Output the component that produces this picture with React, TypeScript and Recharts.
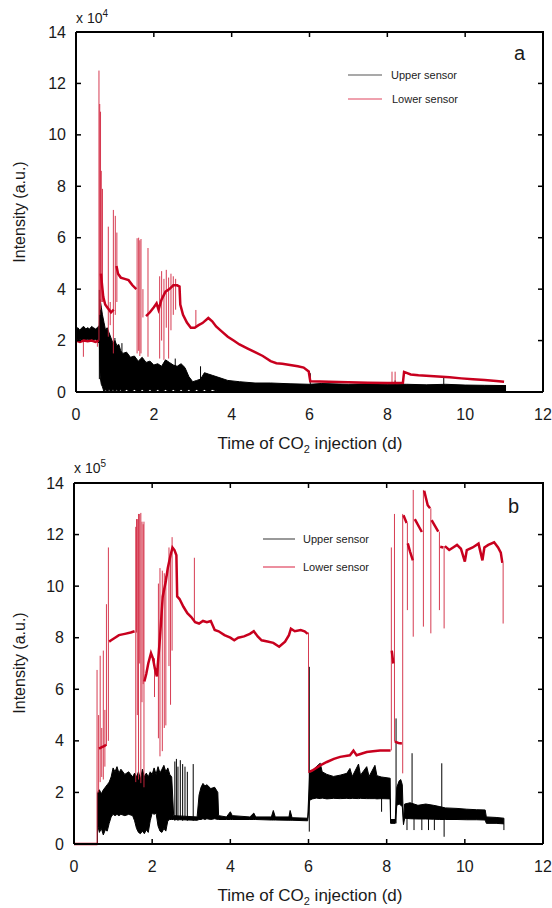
import React from 'react';
import { ComposedChart, Line, Area, XAxis, YAxis } from 'recharts';

// ---------- tick labels ----------
const X_TICKS = [0, 2, 4, 6, 8, 10, 12];
const Y_TICKS = [0, 2, 4, 6, 8, 10, 12, 14];
const X_MAX = 12;
const Y_MAX = 14;

// ---------- Panel a (intensity x 10^4) ----------
// Upper sensor noisy band: [time d, low, high]
const A_UPPER_BAND: number[][] = [
  [0.0, 2.05, 2.45], [0.05, 2.0, 2.5], [0.1, 2.05, 2.4], [0.15, 1.95, 2.5], [0.2, 2.05, 2.55],
  [0.25, 2.0, 2.45], [0.3, 2.05, 2.5], [0.35, 1.98, 2.45], [0.4, 2.05, 2.55], [0.45, 2.0, 2.5],
  [0.5, 2.05, 2.45], [0.55, 1.95, 2.5], [0.6, 1.9, 2.6], [0.62, 0.6, 3.6], [0.65, 0.3, 3.3],
  [0.68, 0.2, 3.0], [0.72, 0.0, 2.7], [0.76, 0.1, 2.4], [0.8, 0.0, 2.5], [0.85, 0.1, 2.3],
  [0.9, 0.0, 2.1], [0.95, 0.1, 1.9], [1.0, 0.0, 2.0], [1.05, 0.1, 1.8], [1.1, 0.0, 1.85],
  [1.15, 0.1, 1.6], [1.2, 0.0, 1.5], [1.3, 0.1, 1.55], [1.4, 0.0, 1.35], [1.5, 0.1, 1.4],
  [1.6, 0.0, 1.2], [1.7, 0.1, 1.35], [1.8, 0.0, 1.15], [1.9, 0.1, 1.2], [2.0, 0.0, 1.05],
  [2.1, 0.1, 1.1], [2.2, 0.0, 1.0], [2.3, 0.1, 1.25], [2.4, 0.0, 1.15], [2.5, 0.1, 1.05],
  [2.6, 0.0, 1.0], [2.7, 0.1, 1.1], [2.8, 0.0, 0.95], [2.9, 0.1, 0.6], [3.0, 0.0, 0.4],
  [3.1, 0.1, 0.45], [3.2, 0.0, 0.5], [3.3, 0.1, 0.75], [3.4, 0.0, 0.7], [3.5, 0.1, 0.65],
  [3.7, 0.0, 0.55], [3.9, 0.0, 0.45], [4.2, 0.0, 0.4], [4.6, 0.0, 0.35], [5.0, 0.0, 0.35],
  [5.5, 0.0, 0.32], [6.0, 0.0, 0.3], [6.3, 0.0, 0.33], [7.0, 0.0, 0.3], [7.5, 0.0, 0.32],
  [8.0, 0.0, 0.3], [8.5, 0.0, 0.3], [9.0, 0.0, 0.28], [9.5, 0.0, 0.3], [10.0, 0.0, 0.27],
  [10.5, 0.0, 0.26], [11.05, 0.0, 0.25],
];
// Upper sensor isolated spikes: [time d, low, high]
const A_UPPER_SPIKES: number[][] = [
  [0.6, 0.5, 3.97], [1.0, 0.2, 2.1], [1.18, 0.3, 1.9], [2.55, 0.3, 1.3], [3.2, 0.2, 1.0],
  [6.02, 0.2, 0.73], [8.2, 0.1, 0.45], [9.45, 0.1, 0.62],
];
// Lower sensor level: [time d, value]  (null = gap bridged only by thin spikes)
const A_LOWER_TREND: (number | null)[][] = [
  [0, 2.0], [0.1, 1.95], [0.2, 2.0], [0.3, 1.97], [0.4, 2.0], [0.5, 1.95], [0.58, 2.0], [0.59, null],
  [0.64, 4.6], [0.7, 3.7], [0.75, 3.4], [0.8, 3.3], [0.9, 3.1], [0.97, 3.2], [0.98, null],
  [1.04, 4.9], [1.08, 4.6], [1.15, 4.45], [1.25, 4.4], [1.35, 4.35], [1.45, 4.15],
  [1.55, 4.0], [1.56, null], [1.8, 2.95], [1.9, 3.1], [2.0, 3.3], [2.07, 3.45],
  [2.12, 3.2], [2.2, 3.6], [2.3, 3.9], [2.4, 4.0], [2.5, 4.15], [2.6, 4.15], [2.66, 4.1],
  [2.68, 3.4], [2.75, 3.0], [2.85, 2.7], [2.95, 2.5], [3.05, 2.5], [3.15, 2.6], [3.25, 2.68],
  [3.4, 2.88], [3.5, 2.75], [3.6, 2.55], [3.75, 2.35], [3.9, 2.15], [4.05, 2.0], [4.2, 1.85],
  [4.4, 1.7], [4.6, 1.55], [4.8, 1.4], [5.0, 1.2], [5.15, 1.12], [5.3, 1.1], [5.5, 1.05],
  [5.7, 1.0], [5.85, 0.95], [5.98, 0.8], [6.02, 0.42], [6.5, 0.4], [7.0, 0.38], [7.5, 0.36],
  [8.0, 0.35], [8.25, 0.35], [8.4, 0.36], [8.43, 0.78], [8.6, 0.68], [8.8, 0.65], [9.0, 0.63],
  [9.3, 0.6], [9.6, 0.57], [9.9, 0.53], [10.2, 0.5], [10.5, 0.47], [10.8, 0.43], [11.0, 0.4],
];
// Lower sensor spikes: [time d, low, high]
const A_LOWER_SPIKES: number[][] = [
  [0.19, 1.37, 2.0], [0.55, 1.76, 2.0], [0.59, 2.0, 12.5], [0.61, 3.0, 11.2], [0.63, 3.2, 10.9],
  [0.65, 3.5, 8.6], [0.68, 3.5, 7.9], [0.83, 2.15, 6.43], [0.88, 2.6, 3.5], [0.96, 1.5, 7.08],
  [1.01, 3.0, 6.85], [1.05, 3.5, 6.2], [1.57, 1.5, 5.98], [1.61, 1.6, 6.0], [1.64, 1.4, 5.9],
  [1.67, 1.5, 5.95], [1.72, 2.9, 4.0], [1.85, 1.37, 5.6], [2.15, 1.3, 4.5], [2.2, 2.0, 4.7],
  [2.26, 1.25, 4.4], [2.32, 2.5, 4.75], [2.38, 1.3, 4.45], [2.44, 2.4, 4.6], [2.5, 3.0, 4.5],
  [2.56, 3.2, 4.4], [3.08, 2.5, 3.19], [8.12, 0.35, 0.79], [8.2, 0.35, 0.79],
];

// ---------- Panel b (intensity x 10^5) ----------
const B_UPPER_BAND: number[][] = [
  [0.61, 0.7, 2.05], [0.65, 0.45, 2.1], [0.7, 0.6, 1.95], [0.75, 0.35, 2.1], [0.8, 0.55, 2.2],
  [0.85, 0.5, 2.3], [0.9, 0.8, 2.4], [0.95, 1.05, 2.6], [1.0, 1.15, 2.95], [1.05, 1.1, 2.8],
  [1.1, 1.15, 3.0], [1.15, 1.1, 2.75], [1.2, 1.15, 2.9], [1.3, 1.1, 2.7], [1.4, 1.15, 2.8],
  [1.5, 1.1, 2.6], [1.55, 0.9, 2.75], [1.6, 0.6, 2.6], [1.65, 0.45, 2.8], [1.7, 0.4, 2.5],
  [1.75, 0.5, 2.9], [1.8, 0.4, 2.6], [1.85, 0.55, 2.75], [1.9, 0.45, 2.6], [1.95, 0.9, 2.8],
  [2.0, 1.2, 2.7], [2.05, 1.15, 2.95], [2.1, 1.2, 2.7], [2.15, 0.7, 3.0], [2.2, 0.5, 2.75],
  [2.25, 0.45, 2.9], [2.3, 0.6, 3.05], [2.35, 0.5, 2.8], [2.4, 0.9, 2.95], [2.45, 0.95, 2.7],
  [2.5, 0.95, 2.6], [2.55, 0.95, 1.1], [3.15, 0.92, 1.05], [3.2, 0.95, 1.9], [3.25, 0.95, 2.2],
  [3.3, 0.98, 2.35], [3.35, 0.95, 2.25], [3.4, 0.98, 2.3], [3.5, 0.95, 2.15], [3.6, 0.98, 2.2],
  [3.68, 0.95, 2.0], [3.7, 0.95, 1.1], [3.9, 0.95, 1.05], [4.0, 0.95, 1.25], [4.05, 0.95, 1.1],
  [4.5, 0.95, 1.05], [4.6, 0.95, 1.2], [4.65, 0.95, 1.05], [5.05, 0.93, 1.05], [5.1, 0.93, 1.3],
  [5.15, 0.93, 1.05], [5.5, 0.92, 1.05], [5.53, 0.92, 1.3], [5.58, 0.92, 1.02], [5.98, 0.9, 1.0],
  [6.03, 1.7, 2.75], [6.1, 1.75, 2.8], [6.2, 1.78, 3.0], [6.3, 1.76, 3.13], [6.35, 1.78, 2.8],
  [6.47, 1.75, 2.7], [6.64, 1.77, 2.62], [6.81, 1.76, 2.67], [6.98, 1.77, 2.74], [7.06, 1.76, 2.93],
  [7.12, 1.77, 2.62], [7.28, 1.76, 3.1], [7.33, 1.77, 2.67], [7.49, 1.76, 3.0], [7.55, 1.76, 2.62],
  [7.7, 1.76, 3.05], [7.75, 1.75, 2.65], [7.86, 1.76, 2.6], [8.09, 1.75, 2.55], [8.1, 0.8, 0.95],
  [8.22, 0.8, 0.95], [8.26, 1.5, 2.2], [8.32, 1.55, 2.45], [8.36, 1.5, 2.5], [8.4, 1.45, 2.3],
  [8.43, 0.75, 0.85], [8.46, 1.0, 1.55], [8.6, 0.98, 1.6], [8.8, 0.97, 1.5], [9.0, 0.97, 1.55],
  [9.2, 0.96, 1.5], [9.36, 0.95, 1.45], [9.5, 0.95, 1.4], [9.8, 0.95, 1.38], [10.05, 0.94, 1.35],
  [10.3, 0.94, 1.33], [10.52, 0.93, 1.32], [10.55, 0.8, 1.05], [10.8, 0.8, 1.03], [11.0, 0.78, 1.0],
];
const B_UPPER_SPIKES: number[][] = [
  [0.6, 0.0, 2.0], [2.58, 0.9, 3.2], [2.62, 0.95, 3.3], [2.66, 0.9, 3.0], [2.72, 0.95, 3.25],
  [2.78, 0.9, 3.1], [2.84, 0.95, 3.0], [2.9, 0.9, 2.8], [3.05, 0.9, 3.1], [6.02, 0.48, 6.87],
  [7.87, 1.25, 1.8], [8.24, 0.8, 4.87], [8.52, 0.54, 1.2], [8.65, 1.0, 3.52], [8.7, 0.54, 1.2],
  [8.9, 0.54, 1.2], [9.07, 0.54, 1.2], [9.22, 0.54, 1.2], [9.41, 1.0, 3.13], [9.47, 0.28, 1.4],
  [11.0, 0.54, 1.0],
];
const B_LOWER_TREND: (number | null)[][] = [
  [0, 0], [0.6, 0], [0.61, null], [0.64, 3.7], [0.7, 3.75], [0.78, 3.8], [0.82, 3.85], [0.83, null],
  [0.9, 7.85], [0.95, 7.9], [1.05, 8.0], [1.15, 8.1], [1.3, 8.15], [1.45, 8.2], [1.55, 8.25],
  [1.56, null], [1.8, 6.3], [1.85, 6.6], [1.9, 7.0], [1.97, 7.4], [2.02, 7.2], [2.07, 6.8],
  [2.12, 6.5], [2.2, 8.0], [2.27, 9.6], [2.35, 10.2], [2.4, 10.7], [2.47, 11.2], [2.52, 11.5],
  [2.57, 11.4], [2.62, 11.2], [2.64, 9.6], [2.7, 9.5], [2.8, 9.2], [2.9, 8.95], [3.0, 8.8],
  [3.1, 8.6], [3.2, 8.55], [3.3, 8.65], [3.4, 8.6], [3.5, 8.65], [3.6, 8.3], [3.7, 8.25],
  [3.85, 8.1], [4.0, 8.0], [4.1, 7.9], [4.2, 8.0], [4.35, 8.05], [4.5, 8.15], [4.6, 8.25],
  [4.7, 8.05], [4.8, 7.9], [4.95, 7.85], [5.1, 7.8], [5.25, 7.65], [5.4, 7.85], [5.5, 8.1],
  [5.55, 8.35], [5.65, 8.25], [5.8, 8.3], [5.9, 8.25], [5.98, 8.15], [5.99, null], [6.02, 2.8],
  [6.1, 2.85], [6.3, 3.05], [6.47, 3.18], [6.65, 3.3], [6.81, 3.38], [7.06, 3.44], [7.15, 3.62],
  [7.23, 3.44], [7.35, 3.5], [7.49, 3.57], [7.65, 3.6], [7.83, 3.63], [8.1, 3.63], [8.11, null],
  [8.13, 7.5], [8.17, 7.0], [8.18, null], [8.21, 3.97], [8.3, 3.92], [8.39, 3.9], [8.4, null],
  [8.43, 12.75], [8.51, 12.45], [8.52, null], [8.54, 11.66], [8.6, 11.33], [8.67, 11.0], [8.69, null],
  [8.72, 12.6], [8.9, 12.1], [8.92, null], [8.96, 13.7], [9.05, 13.14], [9.11, 13.02], [9.12, null],
  [9.15, 12.56], [9.32, 12.11], [9.34, null], [9.37, 11.53], [9.45, 11.5], [9.46, null],
  [9.49, 11.55], [9.6, 11.4], [9.7, 11.5], [9.8, 11.6], [9.9, 11.45], [10.0, 10.95], [10.05, 11.4],
  [10.2, 11.5], [10.35, 11.65], [10.45, 11.0], [10.5, 11.5], [10.6, 11.6], [10.75, 11.7],
  [10.85, 11.5], [10.92, 11.3], [10.96, 10.9],
];
const B_LOWER_SPIKES: number[][] = [
  [0.59, 0.0, 6.75], [0.63, 2.0, 5.0], [0.67, 2.4, 7.3], [0.71, 2.6, 4.5], [0.75, 2.5, 7.5],
  [0.79, 3.0, 5.2], [0.83, 3.8, 9.3], [0.88, 4.0, 11.5], [1.58, 2.4, 12.3], [1.6, 8.2, 12.6],
  [1.62, 5.0, 12.6], [1.65, 2.5, 12.8], [1.68, 7.0, 12.8], [1.71, 2.36, 12.84], [1.74, 5.5, 12.5],
  [1.77, 6.2, 12.4], [1.79, 2.2, 12.5], [2.06, 5.7, 7.2], [2.16, 4.1, 10.1], [2.2, 3.4, 10.7],
  [2.26, 3.6, 10.6], [2.31, 4.5, 10.5], [2.35, 4.6, 10.4], [2.43, 6.9, 11.5], [2.47, 5.4, 11.2],
  [2.51, 7.5, 11.9], [3.08, 8.6, 11.1], [6.0, 2.75, 8.2], [8.12, 3.63, 11.5], [8.2, 3.97, 12.8],
  [8.41, 2.74, 12.8], [8.53, 9.07, 12.45], [8.68, 8.04, 13.73], [8.94, 8.43, 13.73],
  [9.13, 8.17, 13.02], [9.35, 9.07, 12.11], [9.47, 8.36, 11.55], [10.98, 8.55, 10.9],
];

// ---------- helpers (build library tables from the arrays) ----------
const bandRows = (arr: number[][]) => arr.map(([t, lo, hi]) => ({ t, r: [lo, hi] }));
const lineRows = (arr: (number | null)[][]) => arr.map(([t, v]) => ({ t, v }));
const spikeRows = (arr: number[][]) =>
  arr.flatMap(([t, lo, hi]) => [{ t, v: lo }, { t, v: hi }, { t, v: null }]);

const FONT = '"Liberation Sans", Arial, Helvetica, sans-serif';
const RED = '#c8001e';
const RED_THIN = '#d2273f';
const TXT = '#1a1a1a';

// layout of the two panels (page pixels)
const CHART_W = 552;
const MARGIN_TOP = 32;
const MARGIN_RIGHT = 9;
const X_AXIS_H = 30;
const PANELS = [
  { top: 0, height: 454, yAxisWidth: 76, bottomMargin: 32 },
  { top: 451, height: 457, yAxisWidth: 74, bottomMargin: 34 },
];

const LeftTick = (props: any) => {
  const { x, y, payload } = props;
  return (
    <g>
      <line x1={x} x2={x + 5} y1={y} y2={y} stroke="#000" strokeWidth={1.5} />
      <text x={x - 10} y={y} textAnchor="end" dominantBaseline="central" fontSize={16} fontFamily={FONT} fill={TXT}>
        {payload.value}
      </text>
    </g>
  );
};
const BottomTick = (props: any) => {
  const { x, y, payload } = props;
  return (
    <g>
      <line x1={x} x2={x} y1={y} y2={y - 5} stroke="#000" strokeWidth={1.5} />
      <text x={x} y={y + 22} textAnchor="middle" dominantBaseline="central" fontSize={16} fontFamily={FONT} fill={TXT}>
        {payload.value}
      </text>
    </g>
  );
};

const AXIS_LINE = { stroke: '#000', strokeWidth: 2 };

type PanelProps = {
  band: number[][];
  upSpikes: number[][];
  lowTrend: (number | null)[][];
  lowSpikes: number[][];
  height: number;
  yAxisWidth: number;
  bottomMargin: number;
};

function Panel({ band, upSpikes, lowTrend, lowSpikes, height, yAxisWidth, bottomMargin }: PanelProps) {
  return (
    <ComposedChart width={CHART_W} height={height} margin={{ top: MARGIN_TOP, right: MARGIN_RIGHT, bottom: bottomMargin, left: 0 }}>
      <XAxis
        xAxisId="b"
        dataKey="t"
        type="number"
        domain={[0, X_MAX]}
        ticks={X_TICKS}
        interval={0}
        height={X_AXIS_H}
        tickSize={0}
        tickMargin={0}
        tickLine={false}
        tick={<BottomTick />}
        axisLine={AXIS_LINE}
      />
      <YAxis
        yAxisId="l"
        type="number"
        domain={[0, Y_MAX]}
        ticks={Y_TICKS}
        interval={0}
        width={yAxisWidth}
        tickSize={0}
        tickMargin={0}
        tickLine={false}
        tick={<LeftTick />}
        axisLine={AXIS_LINE}
      />
      <Area
        xAxisId="b"
        yAxisId="l"
        data={bandRows(band)}
        dataKey="r"
        type="linear"
        stroke="#000"
        strokeWidth={1}
        fill="#000"
        fillOpacity={1}
        dot={false}
        activeDot={false}
        isAnimationActive={false}
      />
      <Line
        xAxisId="b"
        yAxisId="l"
        data={spikeRows(upSpikes)}
        dataKey="v"
        type="linear"
        stroke="#000"
        strokeWidth={1}
        dot={false}
        activeDot={false}
        isAnimationActive={false}
      />
      <Line
        xAxisId="b"
        yAxisId="l"
        data={spikeRows(lowSpikes)}
        dataKey="v"
        type="linear"
        stroke={RED_THIN}
        strokeWidth={1}
        strokeOpacity={0.9}
        dot={false}
        activeDot={false}
        isAnimationActive={false}
      />
      <Line
        xAxisId="b"
        yAxisId="l"
        data={lineRows(lowTrend)}
        dataKey="v"
        type="linear"
        stroke={RED}
        strokeWidth={2.5}
        dot={false}
        activeDot={false}
        isAnimationActive={false}
      />
    </ComposedChart>
  );
}

// Top and right borders of a panel with inward ticks at the axis tick values
function Frame({ top, height, yAxisWidth, bottomMargin }: { top: number; height: number; yAxisWidth: number; bottomMargin: number }) {
  const left = yAxisWidth;
  const right = CHART_W - MARGIN_RIGHT;
  const y0 = top + MARGIN_TOP;
  const y1 = top + height - bottomMargin - X_AXIS_H;
  const xs = X_TICKS.filter((v) => v > 0 && v < X_MAX).map((v) => left + (v / X_MAX) * (right - left));
  const ys = Y_TICKS.filter((v) => v > 0 && v < Y_MAX).map((v) => y1 - (v / Y_MAX) * (y1 - y0));
  return (
    <g>
      <polyline points={`${left},${y0} ${right},${y0} ${right},${y1}`} fill="none" stroke="#000" strokeWidth={2} />
      {xs.map((x) => (
        <line key={'fx' + x} x1={x} x2={x} y1={y0} y2={y0 + 5} stroke="#000" strokeWidth={1.5} />
      ))}
      {ys.map((y) => (
        <line key={'fy' + y} x1={right} x2={right - 5} y1={y} y2={y} stroke="#000" strokeWidth={1.5} />
      ))}
    </g>
  );
}

const LEGEND_LABELS = ['Upper sensor', 'Lower sensor'];

export default function App() {
  return (
    <div style={{ position: 'absolute', left: 0, top: 0, width: 552, height: 908, background: '#fff', overflow: 'hidden' }}>
      <div style={{ position: 'absolute', left: 0, top: PANELS[0].top }}>
        <Panel band={A_UPPER_BAND} upSpikes={A_UPPER_SPIKES} lowTrend={A_LOWER_TREND} lowSpikes={A_LOWER_SPIKES}
          height={PANELS[0].height} yAxisWidth={PANELS[0].yAxisWidth} bottomMargin={PANELS[0].bottomMargin} />
      </div>
      <div style={{ position: 'absolute', left: 0, top: PANELS[1].top }}>
        <Panel band={B_UPPER_BAND} upSpikes={B_UPPER_SPIKES} lowTrend={B_LOWER_TREND} lowSpikes={B_LOWER_SPIKES}
          height={PANELS[1].height} yAxisWidth={PANELS[1].yAxisWidth} bottomMargin={PANELS[1].bottomMargin} />
      </div>
      <svg width={552} height={908} style={{ position: 'absolute', left: 0, top: 0, pointerEvents: 'none' }} fontFamily={FONT}>
        <Frame {...PANELS[0]} />
        <Frame {...PANELS[1]} />
        {/* panel a annotations */}
        <text x={76} y={23} fontSize={14} fill={TXT}>x 10<tspan fontSize={10} dy={-6}>4</tspan></text>
        <text x={514} y={60} fontSize={20} fill={TXT}>a</text>
        <line x1={348} x2={382} y1={75} y2={75} stroke="#555" strokeWidth={1.2} />
        <text x={391} y={75} fontSize={11} dominantBaseline="central" fill="#222">{LEGEND_LABELS[0]}</text>
        <line x1={348} x2={382} y1={99} y2={99} stroke="#e0445e" strokeWidth={1.2} />
        <text x={392} y={99} fontSize={11} dominantBaseline="central" fill="#222">{LEGEND_LABELS[1]}</text>
        <text transform="translate(19,212) rotate(-90)" textAnchor="middle" dominantBaseline="central" fontSize={16} fill={TXT}>
          Intensity (a.u.)
        </text>
        <text x={310} y={449} textAnchor="middle" fontSize={17} fill={TXT}>
          Time of CO<tspan fontSize={11} dy={4}>2</tspan><tspan dy={-4}> injection (d)</tspan>
        </text>
        {/* panel b annotations */}
        <text x={74} y={473} fontSize={14} fill={TXT}>x 10<tspan fontSize={10} dy={-6}>5</tspan></text>
        <text x={508} y={513} fontSize={20} fill={TXT}>b</text>
        <line x1={263} x2={295} y1={539} y2={539} stroke="#555" strokeWidth={1.2} />
        <text x={303} y={539} fontSize={11} dominantBaseline="central" fill="#222">{LEGEND_LABELS[0]}</text>
        <line x1={263} x2={295} y1={567} y2={567} stroke="#e0445e" strokeWidth={1.2} />
        <text x={303} y={567} fontSize={11} dominantBaseline="central" fill="#222">{LEGEND_LABELS[1]}</text>
        <text transform="translate(19,663) rotate(-90)" textAnchor="middle" dominantBaseline="central" fontSize={16} fill={TXT}>
          Intensity (a.u.)
        </text>
        <text x={310} y={901} textAnchor="middle" fontSize={17} fill={TXT}>
          Time of CO<tspan fontSize={11} dy={4}>2</tspan><tspan dy={-4}> injection (d)</tspan>
        </text>
      </svg>
    </div>
  );
}
